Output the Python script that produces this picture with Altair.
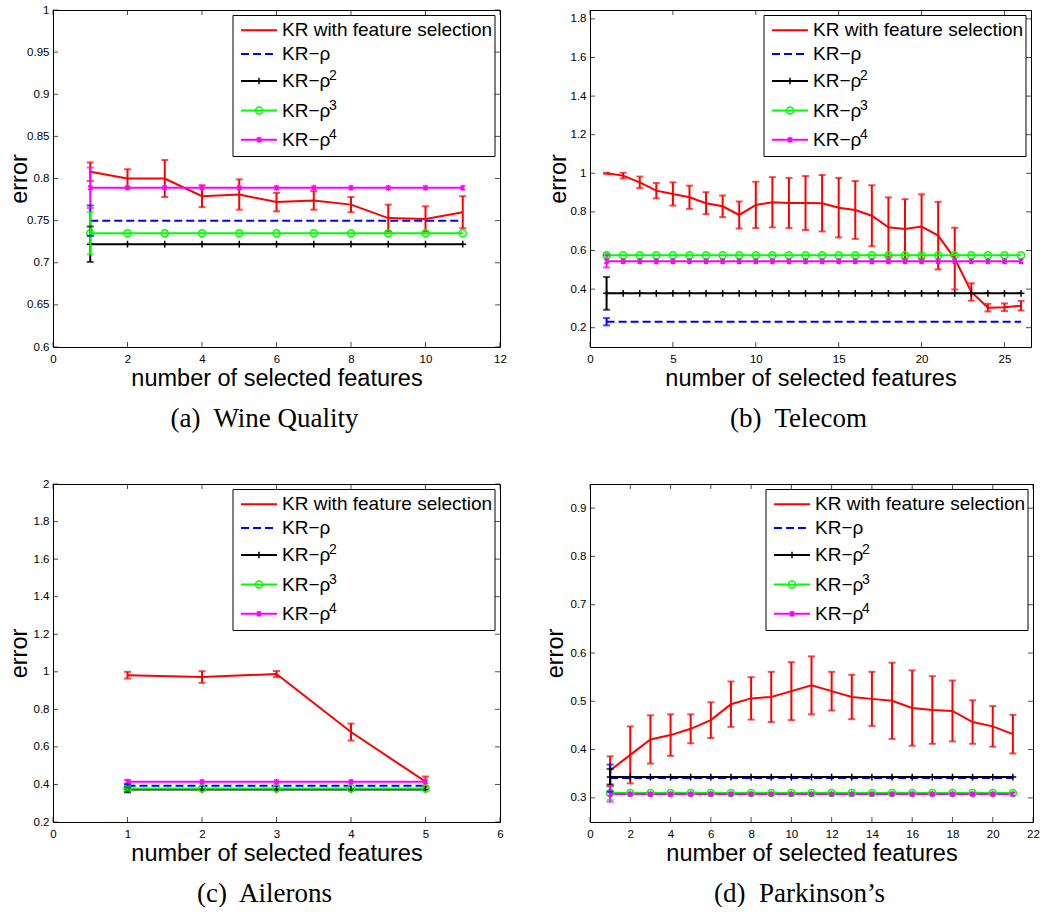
import altair as alt
import pandas as pd

# ---- series definitions -------------------------------------------------
KEYS = ["kr", "rho1", "rho2", "rho3", "rho4"]
LEGEND_BASE = ["KR with feature selection", "KR\u2212\u03c1", "KR\u2212\u03c1", "KR\u2212\u03c1", "KR\u2212\u03c1"]
LEGEND_SUP = ["", "", "2", "3", "4"]
COLORS = ["#ff0000", "#0000ff", "#000000", "#00ff00", "#ff00ff"]
DASHES = [[1, 0], [8, 4], [1, 0], [1, 0], [1, 0]]
PLUS = "M-1,0L1,0M0,-1L0,1"
STAR = "M-0.75,-0.75L0.75,0.75M-0.75,0.75L0.75,-0.75M0,-1L0,1"
MARKERS = ["circle", "circle", PLUS, "circle", STAR]
MARKER_SIZES = [0, 0, 45, 50, 36]

# ---- (a) Wine Quality ---------------------------------------------------
A_X = [1, 2, 3, 4, 5, 6, 7, 8, 9, 10, 11]
A_KR = [0.808, 0.800, 0.800, 0.779, 0.781, 0.772, 0.774, 0.769, 0.753, 0.752, 0.760]
A_KR_ERR = [0.011, 0.011, 0.022, 0.013, 0.018, 0.011, 0.011, 0.009, 0.016, 0.015, 0.019]
A_RHO = [0.750, 0.722, 0.735, 0.789]
A_RHO_ERR = [0.018, 0.021, 0.025, 0.024]
A_XTICKS = [0, 2, 4, 6, 8, 10, 12]
A_YTICKS = [0.6, 0.65, 0.7, 0.75, 0.8, 0.85, 0.9, 0.95, 1.0]

# ---- (b) Telecom --------------------------------------------------------
B_X = list(range(1, 27))
B_KR = [1.000, 0.988, 0.953, 0.910, 0.893, 0.876, 0.845, 0.829, 0.784, 0.836,
        0.850, 0.846, 0.846, 0.845, 0.822, 0.810, 0.780, 0.720, 0.712, 0.724,
        0.677, 0.558, 0.385, 0.304, 0.306, 0.314]
B_KR_ERR = [0.003, 0.015, 0.030, 0.040, 0.060, 0.060, 0.057, 0.056, 0.070, 0.120,
            0.130, 0.130, 0.140, 0.146, 0.154, 0.150, 0.158, 0.155, 0.154, 0.167,
            0.175, 0.160, 0.045, 0.020, 0.020, 0.025]
B_RHO = [0.231, 0.378, 0.575, 0.544]
B_RHO_ERR = [0.019, 0.085, 0.012, 0.032]
B_XTICKS = [0, 5, 10, 15, 20, 25]
B_YTICKS = [0.2, 0.4, 0.6, 0.8, 1.0, 1.2, 1.4, 1.6, 1.8]

# ---- (c) Ailerons -------------------------------------------------------
C_X = [1, 2, 3, 4, 5]
C_KR = [0.982, 0.972, 0.988, 0.679, 0.415]
C_KR_ERR = [0.018, 0.031, 0.016, 0.045, 0.027]
C_RHO = [0.393, 0.373, 0.379, 0.414]
C_RHO_ERR = [0.008, 0.015, 0.010, 0.010]
C_XTICKS = [0, 1, 2, 3, 4, 5, 6]
C_YTICKS = [0.2, 0.4, 0.6, 0.8, 1.0, 1.2, 1.4, 1.6, 1.8, 2.0]

# ---- (d) Parkinson's ----------------------------------------------------
D_X = list(range(1, 22))
D_KR = [0.357, 0.389, 0.421, 0.430, 0.443, 0.461, 0.494, 0.506, 0.509, 0.521,
        0.533, 0.521, 0.509, 0.505, 0.501, 0.486, 0.482, 0.480, 0.457, 0.448, 0.432]
D_KR_ERR = [0.029, 0.059, 0.050, 0.043, 0.030, 0.037, 0.047, 0.044, 0.052, 0.060,
            0.060, 0.040, 0.046, 0.056, 0.079, 0.078, 0.070, 0.063, 0.045, 0.042, 0.040]
D_RHO = [0.341, 0.343, 0.310, 0.308]
D_RHO_ERR = [0.028, 0.017, 0.014, 0.016]
D_XTICKS = [0, 2, 4, 6, 8, 10, 12, 14, 16, 18, 20, 22]
D_YTICKS = [0.3, 0.4, 0.5, 0.6, 0.7, 0.8, 0.9]

SANS = "Liberation Sans"
SERIF = "Liberation Serif"

color = alt.Color("s:N", scale=alt.Scale(domain=KEYS, range=COLORS), legend=None)
dash = alt.StrokeDash("s:N", scale=alt.Scale(domain=KEYS, range=DASHES), legend=None)
ONE = pd.DataFrame({"k": [0]})


def build_frame(xs, kr, kr_err, rho, rho_err):
    rows = []
    for xi, v, e in zip(xs, kr, kr_err):
        rows.append(dict(s="kr", x=xi, y=v, lo=v - e, hi=v + e, bar=True))
    for key, v, e in zip(KEYS[1:], rho, rho_err):
        for xi in xs:
            rows.append(dict(s=key, x=xi, y=v, lo=v - e, hi=v + e, bar=(xi == xs[0])))
    return pd.DataFrame(rows)


def legend_layers(w):
    """Boxed legend drawn in pixel space in the upper right of the panel."""
    lw, lh, top = 262, 141, 5.5
    left = w - 5 - lw
    rows = [14.7, 38.5, 65.5, 95.0, 124.3]
    out = [alt.Chart(ONE).mark_rect(fill="white", stroke="black", strokeWidth=1).encode(
        x=alt.value(left), x2=alt.value(left + lw), y=alt.value(top), y2=alt.value(top + lh))]
    for i, r in enumerate(rows):
        cy = top + r
        out.append(alt.Chart(ONE).mark_rule(
            strokeWidth=2, color=COLORS[i], strokeDash=DASHES[i]).encode(
            x=alt.value(left + 8), x2=alt.value(left + 44), y=alt.value(cy)))
        if MARKER_SIZES[i]:
            out.append(alt.Chart(ONE).mark_point(
                filled=False, size=MARKER_SIZES[i], strokeWidth=1.5, opacity=1,
                color=COLORS[i], shape=MARKERS[i]).encode(
                x=alt.value(left + 26), y=alt.value(cy)))
        out.append(alt.Chart(ONE).mark_text(
            align="left", baseline="middle", font=SANS, fontSize=19, color="black",
            text=LEGEND_BASE[i]).encode(x=alt.value(left + 49), y=alt.value(cy)))
        if LEGEND_SUP[i]:
            out.append(alt.Chart(ONE).mark_text(
                align="left", baseline="middle", font=SANS, fontSize=14, color="black",
                text=LEGEND_SUP[i]).encode(x=alt.value(left + 96), y=alt.value(cy - 5)))
    return out


AXIS_STYLE = dict(
    labelFont=SANS, titleFont=SANS, labelColor="black", titleColor="black",
    labelFontSize=11.5, titleFontSize=23.5, titleFontWeight="normal",
    domain=False, ticks=False, grid=False, labelFlush=False, labelOverlap=False,
)


def panel(xs, kr, kr_err, rho, rho_err, xdom, xticks, ydom, yticks,
          caption, w, h, title_pad):
    df = build_frame(xs, kr, kr_err, rho, rho_err)
    xsc = alt.Scale(domain=xdom, nice=False, zero=False)
    ysc = alt.Scale(domain=ydom, nice=False, zero=False)
    xax = alt.Axis(values=xticks, format="d", title="number of selected features",
                   labelPadding=6, minExtent=18, maxExtent=18, titlePadding=1, **AXIS_STYLE)
    yax = alt.Axis(values=yticks, format=".2~f", title="error",
                   labelPadding=4, minExtent=17, maxExtent=17, titlePadding=title_pad,
                   **AXIS_STYLE)

    def X(field):
        return alt.X(field, scale=xsc, axis=xax)

    def Y(field):
        return alt.Y(field, scale=ysc, axis=yax)

    base = alt.Chart(df)
    is_kr = alt.datum.s == "kr"
    not_kr = alt.datum.s != "kr"

    kr_line = base.transform_filter(is_kr).mark_line(strokeWidth=2).encode(
        x=X("x:Q"), y=Y("y:Q"), color=color)
    kr_bar = base.transform_filter(is_kr).mark_rule(strokeWidth=2).encode(
        x=X("x:Q"), y=Y("lo:Q"), y2="hi:Q", color=color)
    kr_lo = base.transform_filter(is_kr).mark_tick(
        orient="horizontal", size=7, thickness=2).encode(x=X("x:Q"), y=Y("lo:Q"), color=color)
    kr_hi = base.transform_filter(is_kr).mark_tick(
        orient="horizontal", size=7, thickness=2).encode(x=X("x:Q"), y=Y("hi:Q"), color=color)

    const = base.transform_filter(not_kr)
    c_line = const.mark_line(strokeWidth=2).encode(
        x=X("x:Q"), y=Y("y:Q"), color=color, strokeDash=dash, detail="s:N")
    marker_layers = []
    for i in (2, 3, 4):
        marker_layers.append(
            const.transform_filter(alt.datum.s == KEYS[i]).mark_point(
                filled=False, size=MARKER_SIZES[i], strokeWidth=1.5, opacity=1,
                shape=MARKERS[i], color=COLORS[i]).encode(x=X("x:Q"), y=Y("y:Q")))
    c_bars = const.transform_filter("datum.bar")
    c_bar = c_bars.mark_rule(strokeWidth=2).encode(
        x=X("x:Q"), y=Y("lo:Q"), y2="hi:Q", color=color)
    c_lo = c_bars.mark_tick(orient="horizontal", size=7, thickness=2).encode(
        x=X("x:Q"), y=Y("lo:Q"), color=color)
    c_hi = c_bars.mark_tick(orient="horizontal", size=7, thickness=2).encode(
        x=X("x:Q"), y=Y("hi:Q"), color=color)

    # inward tick marks on all four sides of the box
    xt = alt.Chart(pd.DataFrame({"t": xticks}))
    yt = alt.Chart(pd.DataFrame({"t": yticks}))
    tick_top = xt.mark_tick(orient="vertical", size=5, thickness=1, color="black").encode(
        x=X("t:Q"), y=alt.value(2.5))
    tick_bot = xt.mark_tick(orient="vertical", size=5, thickness=1, color="black").encode(
        x=X("t:Q"), y=alt.value(h - 2.5))
    tick_left = yt.mark_tick(orient="horizontal", size=5, thickness=1, color="black").encode(
        y=Y("t:Q"), x=alt.value(2.5))
    tick_right = yt.mark_tick(orient="horizontal", size=5, thickness=1, color="black").encode(
        y=Y("t:Q"), x=alt.value(w - 2.5))

    return alt.layer(
        kr_line, kr_bar, kr_lo, kr_hi,
        c_line, *marker_layers, c_bar, c_lo, c_hi,
        tick_top, tick_bot, tick_left, tick_right,
        *legend_layers(w),
    ).properties(
        width=w, height=h,
        title=alt.Title(caption, orient="bottom", font=SERIF, fontSize=27,
                        fontWeight="normal", color="black", offset=16, dx=-12),
    )


pa = panel(A_X, A_KR, A_KR_ERR, A_RHO, A_RHO_ERR, [0, 12], A_XTICKS, [0.6, 1.0], A_YTICKS,
           "(a)\u00a0 Wine Quality", 447, 337, 5)
pb = panel(B_X, B_KR, B_KR_ERR, B_RHO, B_RHO_ERR, [0, 26.6], B_XTICKS, [0.1, 1.846], B_YTICKS,
           "(b)\u00a0 Telecom", 441, 337, 3)
pc = panel(C_X, C_KR, C_KR_ERR, C_RHO, C_RHO_ERR, [0, 6], C_XTICKS, [0.2, 2.0], C_YTICKS,
           "(c)\u00a0 Ailerons", 447, 338, 5)
pd_ = panel(D_X, D_KR, D_KR_ERR, D_RHO, D_RHO_ERR, [0, 22], D_XTICKS, [0.25, 0.95], D_YTICKS,
            "(d)\u00a0 Parkinson\u2019s", 443, 338, 6)

chart = alt.vconcat(
    alt.hconcat(pa, pb, spacing=38),
    alt.hconcat(pc, pd_, spacing=38),
    spacing=45,
).properties(
    padding={"left": 6, "top": 3, "right": 0, "bottom": 0},
    background="white",
).configure_view(
    stroke="black", strokeWidth=1,
)

chart.save("out.html", embed_options={"renderer": "svg", "actions": False})
